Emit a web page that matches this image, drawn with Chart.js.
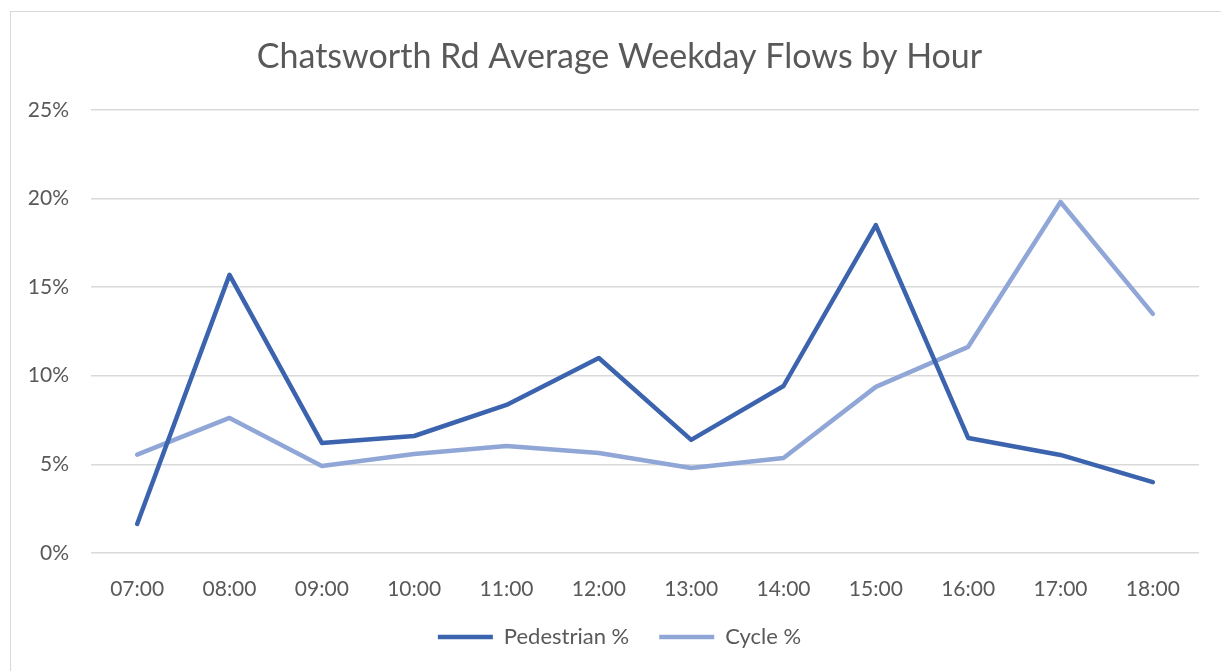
<!DOCTYPE html>
<html><head><meta charset="utf-8">
<script src="https://cdn.jsdelivr.net/npm/chart.js@4/dist/chart.umd.min.js"></script>
<style>
html,body{margin:0;padding:0;background:#fff;}
#wrap{position:absolute;left:0;top:0;width:1221px;height:671px;}
#frame{position:absolute;left:10px;top:11px;width:1240px;height:700px;border:1px solid #d9d9d9;box-sizing:border-box;}
canvas{position:absolute;left:0;top:0;}
</style></head><body>
<div id="wrap"><div id="frame"></div><canvas id="c" width="1221" height="671"></canvas></div>
<script>
const hours = ["07:00","08:00","09:00","10:00","11:00","12:00","13:00","14:00","15:00","16:00","17:00","18:00"];
const pedestrianPct = [1.64,15.69,6.21,6.6,8.35,11.0,6.38,9.42,18.5,6.49,5.53,4.0];
const cyclePct = [5.55,7.62,4.91,5.59,6.04,5.64,4.8,5.36,9.37,11.63,19.8,13.49];
const yTicks = [0,5,10,15,20,25];
const FONT = "Lato, 'Open Sans', sans-serif";

const shiftBlocks = {
  id: 'shiftBlocks',
  afterLayout(chart) {
    if (chart.titleBlock) chart.titleBlock.left = 40;
    if (chart.legend) chart.legend.left = 40;
  }
};

new Chart(document.getElementById('c'), {
  type: 'line',
  data: {
    labels: hours,
    datasets: [
      {label: 'Pedestrian %', data: pedestrianPct, borderColor: '#3C64AE', backgroundColor: '#3C64AE', borderWidth: 4.5, pointRadius: 0, tension: 0, borderCapStyle: 'round', borderJoinStyle: 'round'},
      {label: 'Cycle %', data: cyclePct, borderColor: '#8FA6D7', backgroundColor: '#8FA6D7', borderWidth: 4.5, pointRadius: 0, tension: 0, borderCapStyle: 'round', borderJoinStyle: 'round'}
    ]
  },
  plugins: [shiftBlocks],
  options: {
    responsive: false,
    animation: false,
    layout: {padding: {top: 37, right: 22, bottom: 13, left: 0}},
    plugins: {
      title: {display: true, text: 'Chatsworth Rd Average Weekday Flows by Hour', color: '#595959', font: {family: FONT, size: 34, weight: 'normal'}, padding: {top: 0, bottom: 32}},
      legend: {position: 'bottom', labels: {color: '#595959', font: {family: FONT, size: 22}, usePointStyle: true, pointStyle: 'line', pointStyleWidth: 55, boxHeight: 18, padding: 30}},
      tooltip: {enabled: false}
    },
    scales: {
      x: {
        offset: true,
        grid: {display: false},
        border: {display: false},
        ticks: {color: '#595959', font: {family: FONT, size: 21}, padding: 16, maxRotation: 0},
        afterFit: s => { s.height = 43; }
      },
      y: {
        min: 0, max: 25,
        afterBuildTicks: s => { s.ticks = yTicks.map(v => ({value: v})); },
        grid: {color: '#d9d9d9', lineWidth: 1.5, drawTicks: false},
        border: {display: false},
        ticks: {color: '#595959', font: {family: FONT, size: 21}, padding: 22, callback: v => v + '%'},
        afterFit: s => { s.width = 91; }
      }
    }
  }
});
</script>
</body></html>
